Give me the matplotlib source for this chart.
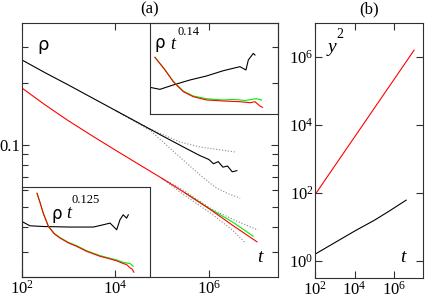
import numpy as np
import matplotlib
matplotlib.use("Agg")
import matplotlib.pyplot as plt
from matplotlib.ticker import FixedLocator, NullLocator, LogFormatterMathtext, NullFormatter, FixedFormatter

plt.rcParams['font.family'] = 'serif'
plt.rcParams['font.serif'] = ['Liberation Serif', 'DejaVu Serif']
plt.rcParams['mathtext.fontset'] = 'stix'

# ---- panel (a), main curves: log10(t) and rho
lt_black = [2.0, 2.5, 3.0, 3.5, 4.0, 4.5, 5.0, 5.5, 5.8, 6.0, 6.1, 6.2, 6.3, 6.4, 6.5, 6.6]
rho_black = [0.260, 0.225, 0.196, 0.170, 0.1475, 0.128, 0.111, 0.0966, 0.089, 0.085,
             0.081, 0.083, 0.078, 0.079, 0.074, 0.075]
lt_black_up = [4.0, 4.7, 5.38, 5.81, 6.2, 6.56]
rho_black_up = [0.1475, 0.121, 0.1035, 0.0978, 0.095, 0.0925]
lt_black_lo = [4.0, 4.74, 5.38, 5.81, 6.13, 6.4, 6.67]
rho_black_lo = [0.1475, 0.118, 0.0873, 0.0714, 0.0624, 0.058, 0.0551]

lt_red = [2.0, 2.5, 3.0, 3.5, 4.0, 4.5, 5.0, 5.5, 6.0, 6.5, 7.03]
rho_red = [0.1897, 0.1567, 0.131, 0.111, 0.0944, 0.0805, 0.0687, 0.0582, 0.049, 0.0407, 0.0337]
lt_green = [5.5, 6.0, 6.5, 6.95]
rho_green = [0.0582, 0.0492, 0.0422, 0.0359]
lt_red_up = [5.0, 5.38, 6.09, 6.6, 7.05]
rho_red_up = [0.0687, 0.0617, 0.0482, 0.0425, 0.0385]
lt_red_lo = [5.0, 5.38, 6.09, 6.5, 6.78]
rho_red_lo = [0.0687, 0.059, 0.0456, 0.0385, 0.0333]

# ---- upper inset: rho t^0.14 (arbitrary units)
in1_lt_red = [2.0, 2.47, 2.85, 3.32, 3.78, 4.4, 5.18, 5.95, 6.42, 6.65, 6.88, 7.0]
in1_red = [0.623, 0.484, 0.355, 0.245, 0.19, 0.154, 0.143, 0.135, 0.124, 0.135, 0.088, 0.073]
in1_lt_green = [2.0, 2.47, 2.85, 3.32, 3.78, 4.4, 5.18, 5.6, 5.95, 6.2, 6.5, 6.73, 6.96]
in1_green = [0.623, 0.484, 0.360, 0.252, 0.198, 0.168, 0.154, 0.16, 0.154, 0.148, 0.16, 0.168, 0.154]
in1_lt_black = [1.77, 2.23, 2.85, 3.63, 4.4, 5.18, 5.95, 6.23, 6.34, 6.57, 6.65]
in1_black = [0.293, 0.271, 0.319, 0.374, 0.418, 0.476, 0.52, 0.484, 0.593, 0.666, 0.648]

# ---- lower inset: rho t^0.125 (arbitrary units)
in2_lt_red = [2.0, 2.15, 2.29, 2.53, 2.8, 3.07, 3.45, 3.85, 4.31, 4.93, 5.4, 5.7, 6.01, 6.17, 6.33, 6.42, 6.51]
in2_red = [0.930, 0.82, 0.709, 0.561, 0.48, 0.433, 0.38, 0.340, 0.285, 0.230, 0.201, 0.18, 0.15, 0.138, 0.102, 0.09, 0.053]
in2_lt_green = [2.0, 2.15, 2.29, 2.53, 2.8, 3.07, 3.45, 3.85, 4.31, 4.93, 5.4, 5.7, 6.01, 6.17, 6.33, 6.48]
in2_green = [0.930, 0.82, 0.709, 0.565, 0.485, 0.438, 0.386, 0.348, 0.292, 0.238, 0.208, 0.19, 0.163, 0.155, 0.15, 0.119]
in2_lt_black = [1.29, 1.67, 2.29, 3.53, 4.62, 5.08, 5.4, 5.71, 5.86, 6.01, 6.17, 6.25]
in2_black = [0.617, 0.569, 0.561, 0.555, 0.555, 0.580, 0.599, 0.525, 0.635, 0.691, 0.654, 0.691]

# ---- panel (b): log10(t) and log10(y^2)
lt_b_red = [2.0, 3.0, 4.0, 5.0, 6.0, 7.0]
ly_b_red = [1.95, 2.80, 3.65, 4.50, 5.35, 6.2]
lt_b_black = [2.0, 3.0, 4.0, 5.0, 5.75, 6.6]
ly_b_black = [0.2, 0.54, 0.88, 1.2, 1.47, 1.79]

W, H = 425, 300
fig = plt.figure(figsize=(W / 100, H / 100), dpi=100)

def rect(x0, y0, x1, y1):
    return [x0 / W, 1 - y1 / H, (x1 - x0) / W, (y1 - y0) / H]

def px(x, y):
    return x / W, 1 - y / H

frame = '#303030'

def style(ax):
    for s in ax.spines.values():
        s.set_color(frame)
        s.set_linewidth(0.8)
    ax.tick_params(which='both', direction='in', top=True, right=True,
                   color=frame, labelsize=12, pad=2)
    ax.tick_params(which='major', length=5, width=0.8)
    ax.tick_params(which='minor', length=4, width=0.8)

tt = lambda a: 10 ** np.array(a)

# panel (a)
ax = fig.add_axes(rect(22, 23, 278, 277))
style(ax)
ax.set_xscale('log')
ax.set_yscale('log')
ax.plot(tt(lt_black_up), rho_black_up, ':', color='#888888', lw=0.8)
ax.plot(tt(lt_black_lo), rho_black_lo, ':', color='#888888', lw=0.8)
ax.plot(tt(lt_red_up), rho_red_up, ':', color='#888888', lw=0.8)
ax.plot(tt(lt_red_lo), rho_red_lo, ':', color='#888888', lw=0.8)
ax.plot(tt(lt_black), rho_black, color='black', lw=0.8)
ax.plot(tt(lt_green), rho_green, color='#00ee00', lw=0.8)
ax.plot(tt(lt_red), rho_red, color='red', lw=0.8)
ax.set_xlim(1e2, 10 ** 7.48)
ax.set_ylim(0.0227, 0.394)
ax.xaxis.set_major_locator(FixedLocator([1e2, 1e4, 1e6]))
ax.xaxis.set_major_formatter(LogFormatterMathtext())
ax.xaxis.set_minor_locator(NullLocator())
ax.yaxis.set_major_locator(FixedLocator([0.1]))
ax.yaxis.set_major_formatter(FixedFormatter(['0.1']))
ax.yaxis.set_minor_locator(FixedLocator([0.03, 0.04, 0.05, 0.06, 0.07, 0.08, 0.09, 0.2, 0.3]))
ax.yaxis.set_minor_formatter(NullFormatter())
ax.tick_params(axis='y', pad=1)

# insets
def inset(r, xl):
    a = fig.add_axes(r)
    a.patch.set_alpha(0)
    for s in a.spines.values():
        s.set_color(frame)
        s.set_linewidth(0.8)
    a.set_xscale('log')
    a.set_xlim(10 ** xl[0], 10 ** xl[1])
    a.set_ylim(0, 1)
    a.set_xticks([])
    a.set_yticks([])
    a.minorticks_off()
    return a

a1 = inset(rect(150, 23, 278, 114), (1.77, 7.72))
a1.plot(tt(in1_lt_black), in1_black, color='black', lw=0.8)
a1.plot(tt(in1_lt_green), in1_green, color='#00ee00', lw=0.8)
a1.plot(tt(in1_lt_red), in1_red, color='red', lw=0.8)

a2 = inset(rect(22, 187, 150, 277), (1.30, 7.26))
a2.plot(tt(in2_lt_black), in2_black, color='black', lw=0.8)
a2.plot(tt(in2_lt_green), in2_green, color='#00ee00', lw=0.8)
a2.plot(tt(in2_lt_red), in2_red, color='red', lw=0.8)

# panel (b)
bx = fig.add_axes(rect(315, 23, 423, 278))
style(bx)
bx.set_xscale('log')
bx.set_yscale('log')
bx.plot(tt(lt_b_black), tt(ly_b_black), color='black', lw=0.8)
bx.plot(tt(lt_b_red), tt(ly_b_red), color='red', lw=0.8)
bx.set_xlim(1e2, 10 ** 7.45)
bx.set_ylim(10 ** -0.5, 1e7)
bx.xaxis.set_major_locator(FixedLocator([1e2, 1e4, 1e6]))
bx.yaxis.set_major_locator(FixedLocator([1e0, 1e2, 1e4, 1e6]))
bx.xaxis.set_major_formatter(LogFormatterMathtext())
bx.yaxis.set_major_formatter(LogFormatterMathtext())
bx.xaxis.set_minor_locator(NullLocator())
bx.yaxis.set_minor_locator(NullLocator())
bx.tick_params(axis='y', pad=1)

# labels
fig.text(*px(150, 9), '(a)', ha='center', va='center', fontsize=12)
fig.text(*px(369, 9), '(b)', ha='center', va='center', fontsize=12)
fig.text(*px(43, 45), 'ρ', ha='center', va='center', fontsize=13, family='DejaVu Sans')
fig.text(*px(160, 43), 'ρ', ha='center', va='center', fontsize=12, family='DejaVu Sans')
fig.text(*px(173, 44), 't', ha='center', va='center', fontsize=13, style='italic')
fig.text(*px(177, 32), '0.14', ha='left', va='center', fontsize=9)
fig.text(*px(57, 214), 'ρ', ha='center', va='center', fontsize=12, family='DejaVu Sans')
fig.text(*px(69, 213), 't', ha='center', va='center', fontsize=13, style='italic')
fig.text(*px(72, 200), '0.125', ha='left', va='center', fontsize=9)
fig.text(*px(260, 257), 't', ha='center', va='center', fontsize=14, style='italic')
fig.text(*px(403, 257), 't', ha='center', va='center', fontsize=14, style='italic')
fig.text(*px(332, 48), 'y', ha='center', va='center', fontsize=14, style='italic')
fig.text(*px(340, 35), '2', ha='center', va='center', fontsize=10)

fig.savefig('out.png', dpi=100)
